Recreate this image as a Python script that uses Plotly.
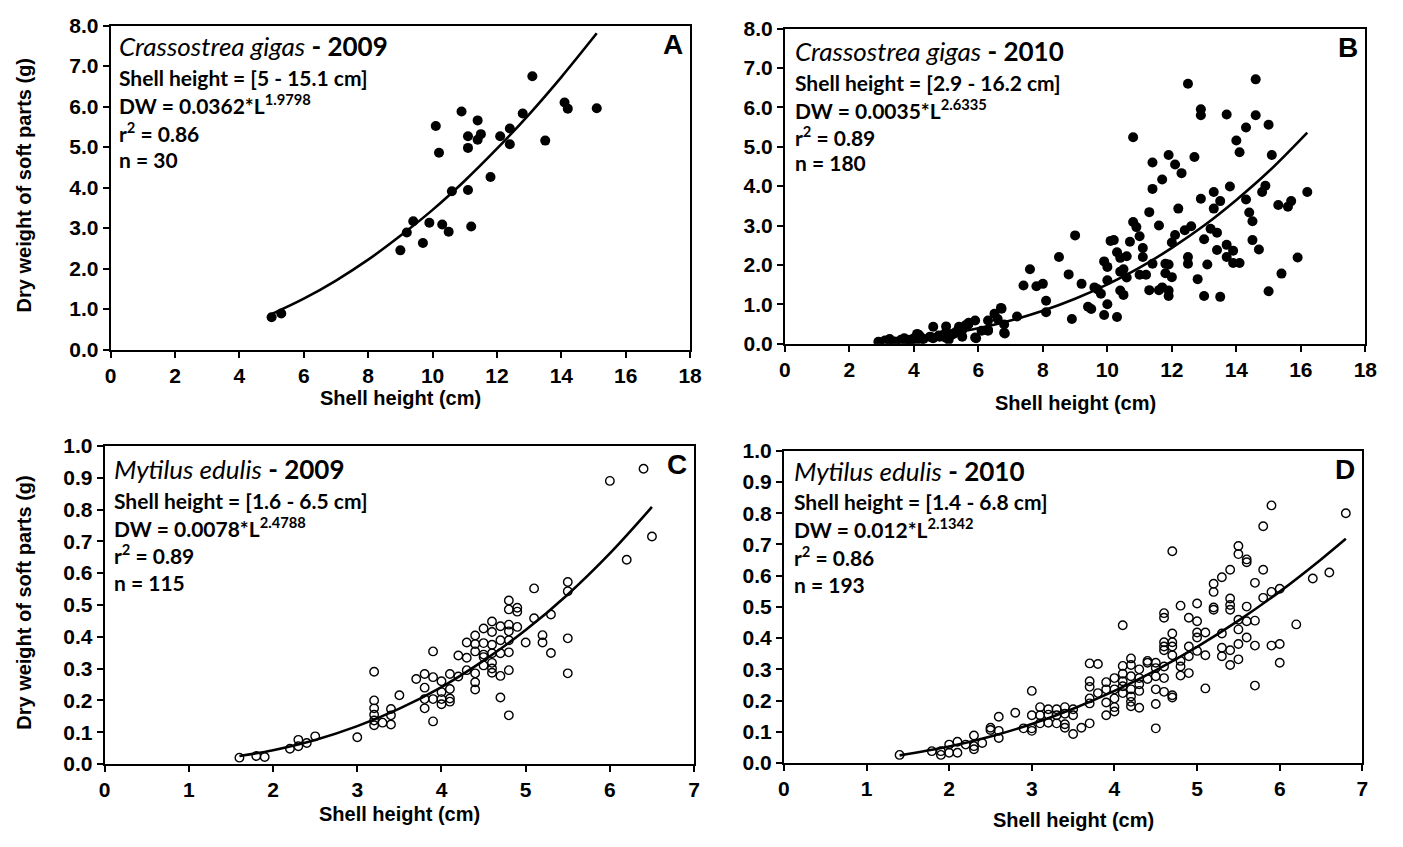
import plotly.graph_objects as go

W, H = 1403, 847

# ---------------- Panel A: Crassostrea gigas 2009 ----------------
a_x = [5.0, 5.3, 9.0, 9.2, 9.4, 9.7, 9.9, 10.3, 10.5, 10.6, 10.1, 10.2, 10.9, 11.1, 11.1,
       11.1, 11.2, 11.4, 11.4, 11.5, 11.8, 12.1, 12.4, 12.4, 12.8, 13.1, 13.5, 14.1, 14.2, 15.1]
a_y = [0.80, 0.89, 2.45, 2.89, 3.17, 2.63, 3.13, 3.09, 2.91, 3.91, 5.52, 4.86, 5.88, 5.27, 4.98,
       3.94, 3.04, 5.66, 5.18, 5.32, 4.26, 5.27, 5.46, 5.07, 5.83, 6.75, 5.16, 6.10, 5.95, 5.96]
a_fit_x = [5, 6, 7, 8, 9, 10, 11, 12, 13, 14, 15.1]
a_fit_y = [0.876, 1.257, 1.705, 2.22, 2.81, 3.45, 4.17, 4.96, 5.81, 6.73, 7.81]

# ---------------- Panel B: Crassostrea gigas 2010 ----------------
b_x = [12.5, 14.6, 12.9, 12.9, 13.7, 14.6, 14.3, 15.0, 10.8, 14.0, 14.1, 15.1, 11.9, 12.7, 11.4,
       12.1, 12.3, 11.7, 11.4, 13.8, 14.9, 14.8, 16.2, 13.3, 12.9, 13.5, 13.3, 14.3, 12.2, 11.3,
       14.4, 15.3, 15.6, 15.7, 14.5, 10.8, 10.9, 11.6, 12.6, 12.4, 13.2, 13.4, 11.0, 12.1, 13.0,
       9.0, 10.1, 10.2, 10.7, 12.0, 11.1, 10.3, 10.4, 10.6, 11.1, 13.7, 13.4, 13.9, 13.7, 14.5,
       14.7, 12.5, 12.5, 13.9, 14.1, 15.9, 8.5, 9.9, 10.0, 11.4, 11.8, 11.9, 13.1, 10.4, 10.5,
       10.6, 11.0, 11.2, 11.8, 12.0, 7.6, 8.8, 10.0, 7.4, 7.8, 8.0, 9.2, 9.6, 9.7, 9.8,
       10.4, 10.5, 11.3, 11.6, 11.7, 11.9, 11.9, 12.8, 15.0, 13.0, 13.5, 15.4, 8.1, 8.1, 9.4,
       9.5, 10.0, 9.9, 10.3, 8.9, 7.2, 6.7, 6.5, 6.6, 6.3, 6.8, 6.8, 5.9, 5.7, 5.6,
       5.5, 5.4, 5.9, 6.3, 4.6, 5.0, 5.0, 4.9, 5.2, 5.3, 5.5, 4.5, 4.6, 4.1, 4.1,
       4.0, 3.9, 3.8, 3.7, 3.6, 3.4, 3.25, 3.1, 2.9, 4.2, 4.3, 4.8, 5.1,
       2.92, 3.23, 3.44, 3.74, 3.9, 4.1, 4.15, 4.26, 4.56, 4.77, 4.97, 5.08, 5.23, 5.49, 5.69,
       6.1, 6.3, 6.72, 6.82, 5.93]
b_y = [6.60, 6.71, 5.95, 5.80, 5.82, 5.80, 5.49, 5.56, 5.24, 5.16, 4.86, 4.79, 4.79, 4.74, 4.60,
       4.55, 4.33, 4.17, 3.93, 3.99, 4.01, 3.85, 3.85, 3.85, 3.68, 3.62, 3.43, 3.66, 3.43, 3.34,
       3.33, 3.52, 3.48, 3.62, 3.11, 3.09, 2.96, 3.00, 2.98, 2.88, 2.92, 2.82, 2.73, 2.76, 2.65,
       2.75, 2.61, 2.63, 2.59, 2.57, 2.43, 2.32, 2.18, 2.22, 2.20, 2.51, 2.38, 2.36, 2.20, 2.63,
       2.39, 2.20, 2.03, 2.05, 2.05, 2.19, 2.20, 2.09, 1.95, 2.03, 2.03, 2.01, 2.01, 1.83, 1.89,
       1.68, 1.75, 1.75, 1.79, 1.69, 1.89, 1.76, 1.61, 1.48, 1.46, 1.52, 1.52, 1.43, 1.38, 1.27,
       1.35, 1.24, 1.36, 1.36, 1.43, 1.35, 1.21, 1.64, 1.33, 1.21, 1.19, 1.78, 1.09, 0.80, 0.94,
       0.88, 1.00, 0.73, 0.68, 0.63, 0.69, 0.91, 0.76, 0.63, 0.59, 0.49, 0.28, 0.59, 0.53, 0.47,
       0.39, 0.43, 0.16, 0.35, 0.43, 0.44, 0.30, 0.22, 0.25, 0.30, 0.18, 0.18, 0.14, 0.25, 0.10,
       0.14, 0.10, 0.10, 0.14, 0.10, 0.06, 0.12, 0.08, 0.05, 0.18, 0.12, 0.18, 0.18,
       0.04, 0.10, 0.04, 0.08, 0.07, 0.16, 0.23, 0.12, 0.16, 0.21, 0.16, 0.10, 0.25, 0.33, 0.49,
       0.33, 0.33, 0.89, 0.26, 0.14]
b_fit_x = [2.9, 4, 5, 6, 7, 8, 9, 10, 11, 12, 13, 14, 15, 16.2]
b_fit_y = [0.058, 0.135, 0.243, 0.392, 0.588, 0.836, 1.14, 1.505, 1.93, 2.433, 3.00, 3.65, 4.37, 5.36]

# ---------------- Panel C: Mytilus edulis 2009 ----------------
c_x = [1.6, 1.8, 1.9, 2.2, 2.3, 2.3, 2.4, 2.5, 3.0, 3.2, 3.2, 3.2, 3.2, 3.2, 3.2, 3.3, 3.4, 3.4,
       3.4, 3.5, 3.7, 3.8, 3.8, 3.8, 3.8, 3.9, 3.9, 3.9, 3.9, 4.0, 4.0, 4.0, 4.0, 4.1, 4.1, 4.1,
       4.1, 4.2, 4.2, 4.3, 4.3, 4.3, 4.4, 4.4, 4.4, 4.4, 4.4, 4.4, 4.5, 4.5, 4.5, 4.5, 4.5, 4.6,
       4.6, 4.6, 4.6, 4.6, 4.6, 4.6, 4.7, 4.7, 4.7, 4.7, 4.7, 4.8, 4.8, 4.8, 4.8, 4.8, 4.8, 4.8,
       4.8, 4.9, 4.9, 4.9, 5.0, 5.1, 5.1, 5.2, 5.2, 5.3, 5.3, 5.5, 5.5, 5.5, 5.5, 6.0, 6.2, 6.4, 6.5]
c_y = [0.02, 0.025, 0.022, 0.048, 0.076, 0.056, 0.066, 0.087, 0.084, 0.29, 0.20, 0.175, 0.155,
       0.137, 0.122, 0.13, 0.173, 0.153, 0.124, 0.216, 0.267, 0.283, 0.24, 0.204, 0.175, 0.354,
       0.273, 0.134, 0.204, 0.26, 0.226, 0.204, 0.188, 0.283, 0.236, 0.206, 0.196, 0.341, 0.275,
       0.382, 0.334, 0.295, 0.404, 0.377, 0.354, 0.285, 0.257, 0.234, 0.426, 0.38, 0.344, 0.336,
       0.31, 0.448, 0.415, 0.375, 0.348, 0.318, 0.30, 0.287, 0.433, 0.389, 0.348, 0.277, 0.209,
       0.514, 0.486, 0.438, 0.417, 0.389, 0.351, 0.295, 0.153, 0.491, 0.479, 0.431, 0.382, 0.552,
       0.458, 0.405, 0.382, 0.47, 0.349, 0.572, 0.543, 0.395, 0.285, 0.89, 0.642, 0.928, 0.715]
c_fit_x = [1.6, 2, 2.5, 3, 3.5, 4, 4.5, 5, 5.5, 6, 6.5]
c_fit_y = [0.025, 0.0435, 0.0756, 0.119, 0.174, 0.242, 0.325, 0.421, 0.533, 0.662, 0.808]

# ---------------- Panel D: Mytilus edulis 2010 ----------------
d_x = [1.4, 1.79, 1.9, 1.9, 2.0, 2.0, 2.1, 2.1, 2.2, 2.3, 2.3, 2.3, 2.4, 2.5, 2.5, 2.6, 2.6, 2.6,
       2.8, 2.9, 3.0, 3.0, 3.0, 3.0, 3.1, 3.1, 3.1, 3.2, 3.2, 3.2, 3.3, 3.3, 3.3, 3.4, 3.4, 3.4,
       3.4, 3.5, 3.5, 3.5, 3.6, 3.7, 3.7, 3.7, 3.7, 3.7, 3.7, 3.8, 3.8, 3.9, 3.9, 3.9, 3.9, 4.0,
       4.0, 4.0, 4.0, 4.0, 4.1, 4.1, 4.1, 4.1, 4.1, 4.1, 4.2, 4.2, 4.2, 4.2, 4.2, 4.2, 4.2, 4.3,
       4.3, 4.3, 4.3, 4.3, 4.4, 4.4, 4.4, 4.5, 4.5, 4.5, 4.5, 4.5, 4.5, 4.6, 4.6, 4.6, 4.6, 4.6,
       4.6, 4.6, 4.6, 4.7, 4.7, 4.7, 4.7, 4.7, 4.7, 4.7, 4.8, 4.8, 4.8, 4.8, 4.9, 4.9, 4.9, 4.9,
       5.0, 5.0, 5.0, 5.0, 5.0, 5.1, 5.1, 5.1, 5.2, 5.2, 5.2, 5.2, 5.3, 5.3, 5.3, 5.3, 5.4, 5.4,
       5.4, 5.4, 5.4, 5.4, 5.5, 5.5, 5.5, 5.5, 5.5, 5.5, 5.6, 5.6, 5.6, 5.6, 5.6, 5.7, 5.7, 5.7,
       5.7, 5.8, 5.8, 5.8, 5.9, 5.9, 5.9, 6.0, 6.0, 6.0, 6.2, 6.4, 6.6, 6.8]
d_y = [0.026, 0.038, 0.026, 0.038, 0.059, 0.033, 0.068, 0.033, 0.059, 0.088, 0.054, 0.044, 0.064,
       0.113, 0.106, 0.148, 0.103, 0.08, 0.161, 0.111, 0.231, 0.153, 0.111, 0.103, 0.179, 0.153,
       0.127, 0.172, 0.155, 0.129, 0.172, 0.153, 0.127, 0.179, 0.158, 0.124, 0.113, 0.172, 0.153,
       0.093, 0.113, 0.319, 0.262, 0.244, 0.207, 0.191, 0.127, 0.317, 0.224, 0.259, 0.236, 0.194,
       0.153, 0.272, 0.236, 0.207, 0.179, 0.165, 0.441, 0.311, 0.286, 0.262, 0.246, 0.224, 0.335,
       0.314, 0.278, 0.236, 0.213, 0.196, 0.182, 0.30, 0.272, 0.252, 0.231, 0.177, 0.327, 0.321,
       0.269, 0.321, 0.304, 0.278, 0.236, 0.189, 0.111, 0.48, 0.465, 0.387, 0.373, 0.361, 0.309,
       0.272, 0.228, 0.678, 0.415, 0.387, 0.373, 0.345, 0.217, 0.21, 0.504, 0.327, 0.28, 0.309,
       0.465, 0.373, 0.342, 0.288, 0.511, 0.454, 0.418, 0.402, 0.359, 0.418, 0.345, 0.239, 0.574,
       0.548, 0.498, 0.491, 0.595, 0.415, 0.369, 0.342, 0.619, 0.527, 0.506, 0.491, 0.361, 0.314,
       0.695, 0.669, 0.459, 0.428, 0.381, 0.332, 0.652, 0.643, 0.501, 0.454, 0.402, 0.577, 0.456,
       0.376, 0.248, 0.758, 0.619, 0.529, 0.825, 0.548, 0.376, 0.558, 0.381, 0.321, 0.444, 0.591,
       0.61, 0.80]
d_fit_x = [1.4, 2, 2.5, 3, 3.5, 4, 4.5, 5, 5.5, 6, 6.5, 6.8]
d_fit_y = [0.0246, 0.0527, 0.0848, 0.125, 0.174, 0.231, 0.297, 0.372, 0.456, 0.549, 0.652, 0.718]

# ---------------- Texts ----------------
a_text = ["<i>Crassostrea gigas</i><b> - 2009</b>", "<b>Shell height = [5 - 15.1 cm]</b>",
          "<b>DW = 0.0362*L<sup>1.9798</sup></b>", "<b>r<sup>2</sup> = 0.86</b>", "<b>n = 30</b>"]
b_text = ["<i>Crassostrea gigas</i><b> - 2010</b>", "<b>Shell height = [2.9 - 16.2 cm]</b>",
          "<b>DW = 0.0035*L<sup>2.6335</sup></b>", "<b>r<sup>2</sup> = 0.89</b>", "<b>n = 180</b>"]
c_text = ["<i>Mytilus edulis</i><b> - 2009</b>", "<b>Shell height = [1.6 - 6.5 cm]</b>",
          "<b>DW = 0.0078*L<sup>2.4788</sup></b>", "<b>r<sup>2</sup> = 0.89</b>", "<b>n = 115</b>"]
d_text = ["<i>Mytilus edulis</i><b> - 2010</b>", "<b>Shell height = [1.4 - 6.8 cm]</b>",
          "<b>DW = 0.012*L<sup>2.1342</sup></b>", "<b>r<sup>2</sup> = 0.86</b>", "<b>n = 193</b>"]
letters = ["A", "B", "C", "D"]
x_title = "Shell height (cm)"
y_title = "Dry weight of soft parts (g)"


def fx(px):
    return px / W


def fy(py):
    return 1 - py / H


# panel pixel boxes: left, right, top, bottom
boxes = [(106, 693, 14, 347), (789, 1377, 17, 341), (100, 697, 446, 773), (788, 1374, 451, 772)]
xranges = [[0, 18], [0, 18], [0, 7], [0, 7]]
yranges = [[0, 8], [0, 8], [0, 1], [0, 1]]
xdticks = [2, 2, 1, 1]
ydticks = [1, 1, 0.1, 0.1]
text_pos = [(112, [35, 67, 95, 123, 152]), (797, [40, 72, 100, 127, 155]),
            (107, [470, 502, 529, 557, 586]), (796, [472, 503, 530, 559, 588])]
xtitle_y = [397, 402, 824, 831]

fig = go.Figure()
data = [(a_x, a_y, a_fit_x, a_fit_y, True), (b_x, b_y, b_fit_x, b_fit_y, True),
        (c_x, c_y, c_fit_x, c_fit_y, False), (d_x, d_y, d_fit_x, d_fit_y, False)]

layout = dict(width=W, height=H, margin=dict(l=0, r=0, t=0, b=0),
              plot_bgcolor="white", paper_bgcolor="white", showlegend=False)
annotations = []
tickfont = dict(family="Liberation Sans", size=21, color="black", weight="bold")

for i, (xs, ys, fxs, fys, filled) in enumerate(data):
    n = "" if i == 0 else str(i + 1)
    xa, ya = "x" + n, "y" + n
    if filled:
        marker = dict(symbol="circle", size=10, color="black", line=dict(width=0))
    else:
        marker = dict(symbol="circle-open", size=8.5, color="black", line=dict(width=1.4, color="black"))
    fig.add_trace(go.Scatter(x=xs, y=ys, mode="markers", marker=marker, xaxis=xa, yaxis=ya))
    fig.add_trace(go.Scatter(x=fxs, y=fys, mode="lines", line=dict(color="black", width=2.6, shape="spline"),
                             xaxis=xa, yaxis=ya))
    l, r, t, b = boxes[i]
    layout["xaxis" + n] = dict(domain=[fx(l), fx(r)], range=xranges[i], dtick=xdticks[i], tick0=0,
                               anchor=ya, showgrid=False, zeroline=False, showline=True, linecolor="black",
                               linewidth=2, mirror=True, ticks="outside", ticklen=6, tickwidth=2,
                               tickcolor="black", tickfont=tickfont)
    layout["yaxis" + n] = dict(domain=[fy(b), fy(t)], range=yranges[i], dtick=ydticks[i], tick0=0,
                               anchor=xa, showgrid=False, zeroline=False, showline=True, linecolor="black",
                               linewidth=2, mirror=True, ticks="outside", ticklen=6, tickwidth=2,
                               tickcolor="black", tickfont=tickfont, tickformat=".1f")
    # panel texts
    tx, tys = text_pos[i]
    texts = [a_text, b_text, c_text, d_text][i]
    for j, (s, yy) in enumerate(zip(texts, tys)):
        annotations.append(dict(text=s, x=fx(tx), y=fy(yy), xref="paper", yref="paper",
                                xanchor="left", yanchor="middle", showarrow=False,
                                font=dict(family="Lato", size=26 if j == 0 else 21, color="black")))
    annotations.append(dict(text="<b>" + letters[i] + "</b>", x=fx(r - 5), y=fy(t + 19), xref="paper",
                            yref="paper", xanchor="right", yanchor="middle", showarrow=False,
                            font=dict(family="Liberation Sans", size=28, color="black")))
    annotations.append(dict(text="<b>" + x_title + "</b>", x=fx((l + r) / 2), y=fy(xtitle_y[i]),
                            xref="paper", yref="paper", xanchor="center", yanchor="middle",
                            showarrow=False, font=dict(family="Liberation Sans", size=20, color="black")))
    if i in (0, 2):
        annotations.append(dict(text="<b>" + y_title + "</b>", x=fx(18), y=fy((t + b) / 2 - 2),
                                xref="paper", yref="paper", xanchor="center", yanchor="middle",
                                textangle=-90, showarrow=False,
                                font=dict(family="Liberation Sans", size=20, color="black")))

layout["annotations"] = annotations
fig.update_layout(**layout)
fig.write_html("out.html", config={"displayModeBar": False},
               post_script="document.body.style.margin='0';document.body.style.padding='0';"
                           "document.body.style.overflow='hidden';")
